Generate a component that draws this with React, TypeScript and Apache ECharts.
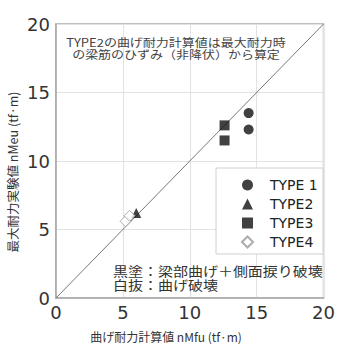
import React, { useEffect, useRef } from "react";
import * as echarts from "echarts";

const xTicks = [0, 5, 10, 15, 20];
const type1: number[][] = [[14.4, 13.5], [14.4, 12.3]];
const type2: number[][] = [[6.0, 6.2]];
const type3: number[][] = [[12.6, 12.6], [12.6, 11.5]];
const type4: number[][] = [[5.2, 5.6], [5.5, 6.0]];
const diagonal: number[][] = [[0, 0], [20, 20]];

const LATIN = "'DejaVu Sans', sans-serif";
const CJK = "'Noto Sans CJK JP', sans-serif";

export default function App() {
  const ref = useRef<HTMLDivElement>(null);
  useEffect(() => {
    if (!ref.current) return;
    const chart = echarts.init(ref.current, undefined, { renderer: "svg" });
    const axisCommon = {
      type: "value" as const,
      min: 0,
      max: 20,
      interval: 5,
      axisLine: { show: true, lineStyle: { color: "#aaa", width: 1.5 } },
      axisTick: { show: false },
      splitLine: { show: true, lineStyle: { color: "#e2e2e2", width: 1 } },
    };
    chart.setOption({
      animation: false,
      backgroundColor: "#fff",
      grid: { left: 56, top: 24, width: 272, height: 274, show: true, borderColor: "#aaa", borderWidth: 1.5 },
      xAxis: {
        ...axisCommon,
        axisLabel: { fontSize: 18, color: "#333", fontFamily: LATIN, margin: 5, formatter: (v: number) => (xTicks.includes(v) ? String(v) : "") },
      },
      yAxis: {
        ...axisCommon,
        axisLabel: { fontSize: 18, color: "#333", fontFamily: LATIN, margin: 6 },
      },
      legend: {
        orient: "vertical",
        left: 236,
        top: 173,
        itemWidth: 11,
        itemHeight: 11,
        itemGap: 5,
        z: 10,
        textStyle: { fontSize: 14, color: "#222", fontFamily: LATIN, padding: [0, 0, 0, 12] },
        data: [
          { name: "TYPE 1", icon: "circle" },
          { name: "TYPE2", icon: "triangle" },
          { name: "TYPE3", icon: "rect" },
          { name: "TYPE4", icon: "diamond" },
        ],
      },
      graphic: [
        { type: "rect", z: 5, shape: { x: 216, y: 168, width: 107, height: 86 }, style: { fill: "#fff", stroke: "#d0d0d0", lineWidth: 1 } },
        {
          type: "text", z: 5, x: 176, y: 36, scaleY: 0.85,
          style: { text: "TYPE2の曲げ耐力計算値は最大耐力時\nの梁筋のひずみ（非降伏）から算定", fontSize: 13, lineHeight: 14, fontFamily: CJK, fill: "#444", align: "center", verticalAlign: "top" },
        },
        {
          type: "text", z: 5, x: 113, y: 264, scaleY: 0.85,
          style: { text: "黒塗：梁部曲げ＋側面捩り破壊\n白抜：曲げ破壊", fontSize: 15, lineHeight: 16, fontFamily: CJK, fill: "#333", verticalAlign: "top" },
        },
        {
          type: "text", x: 166, y: 336,
          style: { text: "曲げ耐力計算値 nMfu (tf·m)", fontSize: 12, fontFamily: CJK, fill: "#333", align: "center", verticalAlign: "middle" },
        },
        {
          type: "text", x: 12, y: 172, rotation: Math.PI / 2,
          style: { text: "最大耐力実験値 nMeu (tf·m)", fontSize: 12.5, fontFamily: CJK, fill: "#333", align: "center", verticalAlign: "middle" },
        },
      ],
      series: [
        { type: "line", data: diagonal, symbol: "none", lineStyle: { color: "#777", width: 1 }, silent: true, z: 1 },
        { name: "TYPE 1", type: "scatter", data: type1, symbol: "circle", symbolSize: 10, itemStyle: { color: "#111" }, z: 3 },
        { name: "TYPE2", type: "scatter", data: type2, symbol: "triangle", symbolSize: 10, itemStyle: { color: "#111" }, z: 3 },
        { name: "TYPE3", type: "scatter", data: type3, symbol: "rect", symbolSize: 10, itemStyle: { color: "#111" }, z: 3 },
        { name: "TYPE4", type: "scatter", data: type4, symbol: "diamond", symbolSize: 11, itemStyle: { color: "#fff", borderColor: "#999", borderWidth: 1 }, z: 3 },
      ],
    });
    return () => chart.dispose();
  }, []);
  return <div ref={ref} style={{ position: "fixed", left: 0, top: 0, width: 338, height: 344 }} />;
}
